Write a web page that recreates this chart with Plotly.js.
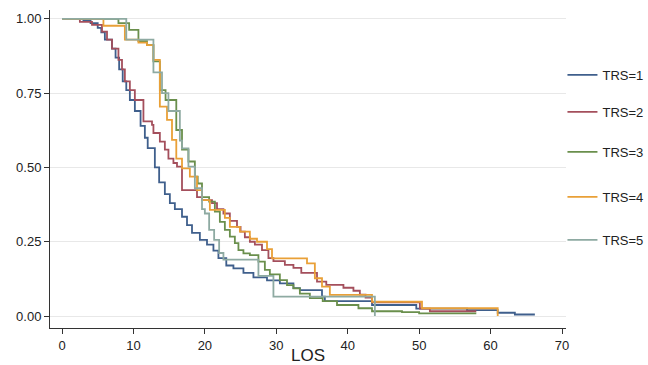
<!DOCTYPE html>
<html>
<head>
<meta charset="utf-8">
<script src="https://cdn.plot.ly/plotly-3.0.1.min.js"></script>
<style>html,body{margin:0;padding:0;background:#fff;}#chart{width:648px;height:365px;}</style>
</head>
<body>
<div id="chart"></div>
<script>
// Kaplan-Meier style survival estimates (LOS vs survival)
const seriesNames = ["TRS=1", "TRS=2", "TRS=3", "TRS=4", "TRS=5"];

const los1  = [0, 3, 4, 5, 5.5, 6, 7, 7.5, 8, 8.5, 9, 9.5, 10.2, 11, 11.6, 12, 13, 13.6, 14.4, 15.1, 15.8, 16.8, 17.5, 18.2, 19.3, 20.3, 21.2, 21.9, 23, 24, 25.4, 26.8, 28.7, 30.5, 32.4, 33.3, 36.4, 36.8, 43.4, 49.6, 56.7, 61, 63.4, 66.2];
const surv1 = [1, 0.995, 0.986, 0.97, 0.955, 0.93, 0.90, 0.87, 0.83, 0.79, 0.76, 0.727, 0.69, 0.64, 0.60, 0.565, 0.50, 0.45, 0.41, 0.38, 0.36, 0.334, 0.306, 0.28, 0.256, 0.24, 0.22, 0.195, 0.17, 0.16, 0.145, 0.13, 0.12, 0.11, 0.094, 0.087, 0.065, 0.05, 0.037, 0.025, 0.02, 0.011, 0.005, 0.005];

const los2  = [0, 2.5, 4.2, 5.6, 6.3, 7, 7.9, 8.4, 8.8, 9.5, 10.2, 11.4, 12.6, 12.8, 13.7, 14.4, 14.9, 15.6, 16.1, 16.8, 18.9, 19.6, 21, 21.7, 22.6, 23.5, 24.5, 25, 25.6, 26.3, 27, 28, 28.9, 29.6, 31.2, 32.4, 33.5, 35.7, 37, 39.4, 40.8, 41.7, 42.5, 43.4, 50.1, 51.5, 58];
const surv2 = [1, 0.99, 0.98, 0.957, 0.93, 0.90, 0.862, 0.83, 0.79, 0.76, 0.727, 0.655, 0.643, 0.616, 0.587, 0.56, 0.53, 0.515, 0.503, 0.424, 0.40, 0.39, 0.38, 0.36, 0.345, 0.32, 0.30, 0.284, 0.265, 0.25, 0.24, 0.222, 0.195, 0.185, 0.172, 0.162, 0.145, 0.116, 0.105, 0.095, 0.085, 0.072, 0.062, 0.046, 0.025, 0.016, 0.016];

const los3  = [0, 7.9, 9.4, 10.7, 11.9, 12.8, 13.7, 14.5, 16, 16.8, 17.7, 18.6, 19, 19.6, 20.6, 21.4, 22.1, 22.8, 23.5, 24.2, 24.7, 25.4, 26.3, 27.5, 28.4, 29.1, 30.5, 31.5, 32.4, 33.3, 34.7, 36.5, 38.5, 41.5, 43.4, 47.6, 50, 58];
const surv3 = [1, 0.986, 0.963, 0.925, 0.912, 0.857, 0.76, 0.727, 0.626, 0.56, 0.52, 0.469, 0.446, 0.40, 0.385, 0.351, 0.317, 0.29, 0.267, 0.245, 0.222, 0.211, 0.205, 0.183, 0.155, 0.14, 0.121, 0.104, 0.093, 0.075, 0.06, 0.05, 0.037, 0.026, 0.016, 0.013, 0.009, 0.009];

const los4  = [0, 5.8, 8.8, 10.7, 11.9, 12.8, 13.7, 14.7, 15.4, 16, 16.8, 17.9, 18.9, 19.6, 20.7, 22.8, 23.5, 24.9, 26.3, 27.3, 28.7, 29.4, 34.3, 35.4, 36.4, 37.5, 43.4, 50.4, 61];
const surv4 = [1, 0.977, 0.93, 0.92, 0.912, 0.862, 0.705, 0.66, 0.593, 0.53, 0.497, 0.469, 0.424, 0.39, 0.357, 0.33, 0.30, 0.284, 0.26, 0.25, 0.225, 0.194, 0.177, 0.127, 0.099, 0.071, 0.048, 0.026, 0];

const los5  = [0, 9, 12.8, 14, 14.9, 16.5, 16.8, 17.7, 18.6, 19.6, 20, 20.6, 21.3, 22, 22.6, 27.5, 29.6, 43.8];
const surv5 = [1, 0.93, 0.82, 0.75, 0.69, 0.59, 0.564, 0.503, 0.43, 0.36, 0.345, 0.29, 0.256, 0.212, 0.19, 0.135, 0.065, 0];

const xTicks = [0, 10, 20, 30, 40, 50, 60, 70];
const yTicks = [0, 0.25, 0.5, 0.75, 1];
const xTitle = "LOS";

const colors = ["#3f5f8c", "#a44f5c", "#6a8f4c", "#e9a037", "#8eaaa2"];
const legendY = [0.7945, 0.6932, 0.5836, 0.4603, 0.3425];

const xs = [los1, los2, los3, los4, los5];
const ys = [surv1, surv2, surv3, surv4, surv5];
const legendIds = ["legend", "legend2", "legend3", "legend4", "legend5"];

const FONT = "Liberation Sans, Arial, Helvetica, sans-serif";

const traces = seriesNames.map((name, i) => ({
  type: "scatter",
  mode: "lines",
  name: name,
  x: xs[i],
  y: ys[i],
  line: {shape: "hv", color: colors[i], width: 1.8},
  legend: legendIds[i],
  hoverinfo: "skip"
}));

const layout = {
  width: 648,
  height: 365,
  margin: {l: 50, r: 82, t: 10, b: 37, autoexpand: false},
  paper_bgcolor: "#ffffff",
  plot_bgcolor: "#ffffff",
  font: {family: FONT, size: 13, color: "#222"},
  showlegend: true,
  xaxis: {
    range: [-1.68, 70.56],
    tickvals: xTicks,
    ticktext: xTicks.map(String),
    showgrid: false,
    zeroline: false,
    showline: true,
    linecolor: "#333",
    linewidth: 1,
    ticks: "outside",
    ticklen: 5,
    tickcolor: "#333",
    automargin: false,
    tickfont: {family: FONT, size: 13, color: "#222"},
    title: {text: xTitle, font: {family: FONT, size: 17, color: "#222"}, standoff: 2}
  },
  yaxis: {
    range: [-0.0404, 1.03],
    tickvals: yTicks,
    ticktext: yTicks.map(v => v.toFixed(2)),
    showgrid: true,
    gridcolor: "#e8e8e8",
    gridwidth: 1,
    zeroline: false,
    showline: true,
    linecolor: "#333",
    linewidth: 1,
    ticks: "outside",
    ticklen: 5,
    tickcolor: "#333",
    automargin: false,
    tickfont: {family: FONT, size: 13, color: "#222"}
  }
};

legendIds.forEach((id, i) => {
  layout[id] = {
    x: 0.868, xref: "container", xanchor: "left",
    y: legendY[i], yref: "container", yanchor: "middle",
    bgcolor: "rgba(0,0,0,0)",
    borderwidth: 0,
    font: {family: FONT, size: 13, color: "#222"},
    itemwidth: 30
  };
});

Plotly.newPlot("chart", traces, layout, {staticPlot: true, displayModeBar: false});
</script>
</body>
</html>
